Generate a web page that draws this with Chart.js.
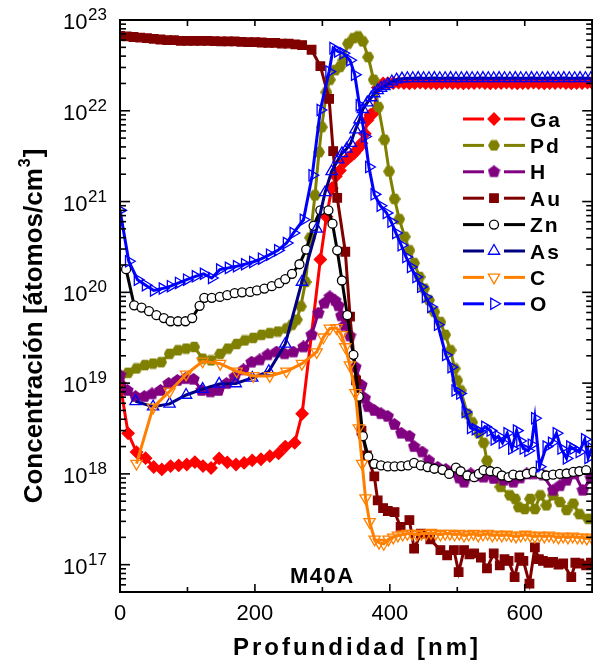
<!DOCTYPE html>
<html>
<head>
<meta charset="utf-8">
<script src="https://cdn.jsdelivr.net/npm/chart.js@4.4.0/dist/chart.umd.min.js"></script>
<style>
  html, body { margin: 0; padding: 0; background: #fff; overflow: hidden; }
  #wrap { width: 600px; height: 663px; }
</style>
</head>
<body>
<div id="wrap"><canvas id="chart" width="600" height="663"></canvas></div>
<script>
// depth in nm, concentration in atoms/cm3
const gaDepth = [0,12,24.5,38,50,62,75,87,99,111, 123,135,147,159,172,184,196,209,222,235, 245,259,270,297,306,314,320,326,333,338, 343,347,351,355,358,363,367,371,376,382, 390,397,
  405,413,421,429,437,445,453,461,469,477,485,493,501,509,517,525,533,541,549,557,565,573,581,589,597,605,613,621,629,637,645,653,661,669,677,685,693,700];
const gaConc = [1e19,2.8e18,1.74e18,1.49e18,1.19e18,1.12e18,1.22e18,1.24e18,1.27e18,1.35e18, 1.22e18,1.16e18,1.48e18,1.34e18,1.27e18,1.32e18,1.41e18,1.45e18,1.57e18,1.68e18, 2.0e18,2.2e18,4.6e18,2.3e20,6.8e20,1.4e21,1.9e21,2.2e21,2.75e21,3.0e21, 3.2e21,3.4e21,3.7e21,4.0e21,4.4e21,5.6e21,7.9e21,9.0e21,9.5e21,1.8e22, 2.0e22,2.02e22,
  2.02e22,2.04e22,2.02e22,2.0e22,2.02e22,2.04e22,2.02e22,2.02e22,2.0e22,2.02e22, 2.04e22,2.02e22,2.02e22,2.0e22,2.02e22,2.02e22,2.04e22,2.02e22,2.0e22,2.02e22, 2.02e22,2.04e22,2.02e22,2.0e22,2.02e22,2.02e22,2.04e22,2.02e22,2.0e22,2.02e22, 2.02e22,2.04e22,2.02e22,2.0e22,2.02e22,2.02e22,2.04e22,2.02e22];

const pdDepth = [0,12,24.5,37,49,61,73.5,86,98,110, 122.5,135,148.5,160,173,185,197.5,210,222,234, 247,255,262,268,275,282,289,295,299,306, 311,319,326,331,338,346,353,360,368,376, 383,392,399,407,414,422,429,436,444,451, 458,466,475,482,490,496,500,505,515,522, 532,539,544,556,564,578,586,591,600,608, 615,623,632,642,652,662,672,681,694];
const pdConc = [1.17e19,1.3e19,1.45e19,1.58e19,1.64e19,1.7e19,2.1e19,2.3e19,2.4e19,2.5e19, 1.86e19,1.78e19,2.1e19,2.4e19,2.7e19,2.95e19,3.15e19,3.4e19,3.55e19,3.7e19, 4.0e19,4.4e19,5.0e19,7.0e19,1.3e20,4.0e20,1.17e21,3.5e21,6.6e21,1.6e22, 2.2e22,2.8e22,3.05e22,3.6e22,5.5e22,6.3e22,6.6e22,5.8e22,3.9e22,2.2e22, 1.1e22,4.8e21,2.15e21,1.07e21,6.4e20,4.1e20,2.9e20,2.1e20,1.48e20,1.1e20, 8.2e19,6.1e19,4.7e19,3.4e19,2.3e19,1.45e19,1.07e19,8.3e18,4.6e18,3.7e18, 2.8e18,2.2e18,1.4e18,9.2e17,7.2e17,5.8e17,5.3e17,4.3e17,4.1e17,5.3e17, 4.1e17,5.8e17,4.5e17,5.8e17,4.9e17,4.0e17,4.7e17,3.6e17,3.2e17];

const hDepth = [0,11,23,36,47.5,60,72,85,97,109, 121,134,146,158,170,183,195,207,219,232, 244,257,272,284,294,303,311,319,324,328, 333,341,349,358,363,368,377,387,397,407, 417,429,436,448,458,471,483,495,503,510, 520,530,539,554,569,583,593,603,613,627, 642,652,662,674,686,698];
const hConc = [1.22e19,8.3e18,7.1e18,7.1e18,7.6e18,8.3e18,9.9e18,1.07e19,1.12e19,1.1e19, 8.3e18,8.0e18,8.3e18,9.9e18,1.17e19,1.4e19,1.7e19,1.8e19,2.05e19,2.2e19, 2.1e19,2.2e19,2.5e19,3.4e19,5.9e19,7.6e19,8.9e19,8.1e19,7.1e19,5.5e19, 4.3e19,3.3e19,1.5e19,9.5e18,6.8e18,5.5e18,5.0e18,4.6e18,4.3e18,3.5e18, 2.8e18,2.6e18,2.0e18,1.74e18,1.4e18,1.18e18,1.12e18,1.05e18,9e17,8.1e17, 1.0e18,9.5e17,9.2e17,8.9e17,8.5e17,8.1e17,9.0e17,1.0e18,1.0e18,9.7e17, 6.6e17,7.4e17,8.5e17,1.0e18,6.6e17,9.0e17];

const auDepth = [0,10,20,30,40,50,60,70,80,90, 100,110,120,130,140,150,160,170,180,190, 200,210,220,230,240,250,260,270, 284,297,310,316,322,334,341,350,358,366, 377,382,390,397,407,416,429,436,446,460, 475,485,495,502,510,518,525,535,544,554, 563,570,576,585,592,598,607,615,621,627, 635,642,650,657,669,675,681,691,698];
const auConc = [6.7e22,6.6e22,6.5e22,6.4e22,6.3e22,6.2e22,6.1e22,6.0e22,6.0e22,5.9e22, 5.9e22,5.9e22,5.9e22,5.9e22,5.85e22,5.8e22,5.8e22,5.8e22,5.75e22,5.7e22, 5.7e22,5.65e22,5.6e22,5.6e22,5.5e22,5.5e22,5.4e22,5.3e22, 4.7e22,3.1e22,1.35e22,3.6e21,1.1e21,2.8e20,5.4e19,1.07e19,3e18,1.6e18, 9.4e17,5.1e17,4.2e17,3.9e17,3.8e17,2.6e17,3.1e17,1.5e17,2.2e17,1.9e17, 1.45e17,1.27e17,1.45e17,8.3e16,1.45e17,1.3e17,1.33e17,1.2e17,9.1e16,1.33e17, 9.8e16,1.15e17,1.1e17,7.3e16,1.2e17,1.1e17,6.2e16,1.55e17,1.15e17,1.1e17, 1.05e17,1.07e17,1.0e17,1.03e17,7.3e16,1.05e17,1.03e17,9.8e16,1.05e17];

const znDepth = [9,21,32,43,54,65,75,86,97,107, 118,125,136,148,159,170,181,193,203,214, 225,236,245,255,266,276,287,297,309,315, 322,329,337,346,354,360,368,377,387,397, 407,417,427,436,446,456,466,478,488,498, 505,515,525,532,539,549,559,566,576,583, 593,603,613,623,632,642,652,662,672,681, 691];
const znConc = [1.8e20,7.2e19,6.8e19,6.2e19,5.6e19,5.2e19,4.8e19,4.8e19,4.8e19,5.2e19, 7.1e19,8.7e19,8.7e19,8.9e19,9.3e19,9.8e19,1.0e20,1.01e20,1.05e20,1.1e20, 1.17e20,1.26e20,1.4e20,1.6e20,2.04e20,2.96e20,5.4e20,8.0e20,8.0e20,5.7e20, 2.9e20,1.35e20,5.6e19,2.05e19,7.1e18,2.6e18,1.55e18,1.29e18,1.24e18,1.21e18, 1.21e18,1.22e18,1.24e18,1.32e18,1.24e18,1.19e18,1.14e18,1.11e18,1.0e18,1.17e18, 1.07e18,9.6e17,9.2e17,1.0e18,1.1e18,1.07e18,1.05e18,9.6e17,9.2e17,9.8e17, 9.6e17,1.0e18,1.05e18,1.0e18,9.6e17,9.8e17,1.0e18,1.01e18,1.05e18,1.07e18, 1.1e18];

const asDepth = [23,49,73.5,98,122.5,147,171.6,196,220.6,245, 269.6,291.6,304,313.7,323.5,329,335.8,342,349,355, 360,366.6,372.5,377,382,387,392,397,403,410, 418,
  426,434,442,450,458,466,474,482,490,498,506,514,522,530,538,546,554,562,570,578,586,594,602,610,618,626,634,642,650,658,666,674,682,690,698];
const asConc = [6.3e18,5.5e18,5.9e18,7.4e18,8.6e18,9.8e18,9.9e18,1.14e19,1.35e19,2.7e19, 1.3e20,5.0e20,1.26e21,2.15e21,2.9e21,3.4e21,3.8e21,4.4e21,6.2e21,8.0e21, 1.04e22,1.23e22,1.4e22,1.55e22,1.68e22,1.78e22,1.86e22,1.95e22,2.1e22,2.2e22, 2.26e22,
  2.28e22,2.28e22,2.29e22,2.28e22,2.28e22,2.29e22,2.28e22,2.28e22,2.29e22,2.28e22, 2.28e22,2.29e22,2.28e22,2.28e22,2.29e22,2.28e22,2.28e22,2.29e22,2.28e22,2.28e22, 2.29e22,2.28e22,2.28e22,2.29e22,2.28e22,2.28e22,2.29e22,2.28e22,2.28e22,2.29e22, 2.28e22,2.28e22,2.29e22,2.28e22,2.28e22];

const cDepth = [24.5,49,73.5,98,122.5,148.5,173,197.5,222,246.6, 269.6,291.6,301.5,311,321,328.4,334,340.7,349,354, 359,364,370,377.5,384,391,
  398,405,412,419,426,433,440,447,454,461,468,475,482,489,496,503,510,517,524,531,538,545,552,559,566,573,580,587,594,601,608,615,622,629,636,643,650,657,664,671,678,685,692,699];
const cConc = [1.3e18,5.4e18,8.1e18,1.25e19,1.74e19,1.64e19,1.35e19,1.2e19,1.2e19,1.35e19, 1.64e19,2.2e19,3.2e19,4.0e19,4.05e19,3.4e19,2.5e19,1.58e19,7.8e18,3.2e18, 1.3e18,5.4e17,2.96e17,1.9e17,1.75e17,1.7e17,
  1.9e17,2.0e17,2.1e17,2.15e17,2.2e17,2.2e17,2.15e17,2.2e17,2.2e17,2.25e17, 2.2e17,2.15e17,2.2e17,2.2e17,2.15e17,2.2e17,2.1e17,2.15e17,2.2e17,2.1e17, 2.15e17,2.2e17,2.1e17,2.15e17,2.1e17,2.15e17,2.1e17,2.05e17,2.1e17,2.15e17, 2.1e17,2.05e17,2.1e17,2.05e17,2.1e17,2.05e17,2.0e17,2.05e17,2.0e17,2.05e17, 2.0e17,2.0e17,1.95e17,2.0e17];

const oDepth = [0,13,26,38,50,63,75,87,99,112, 124,136,148,161,173,185,197,210,222,234, 247,257,272,285,297,310,316,323,331,341, 348,355,363,369,377,386,395,402,409,417, 424,431,439,446,453,461,471,483,491,497, 504,512,520,527,534,541,549,555,561,567, 574,581,588,593,598,605,610,615,622,632, 640,647,654,662,667,672,681,689,694,699];
const oConc = [8e20,2.2e20,1.38e20,1.2e20,1.05e20,1.1e20,1.17e20,1.27e20,1.38e20,1.5e20, 1.6e20,1.44e20,1.78e20,1.86e20,1.94e20,2.04e20,2.16e20,2.35e20,2.6e20,2.9e20, 3.5e20,4.5e20,6.3e20,1.95e21,1.02e22,2.7e22,4.9e22,4.5e22,4.3e22,3.6e22, 2.5e22,1.15e22,5.2e21,2.4e21,1.2e21,9e20,7.5e20,6.0e20,4.5e20,3.3e20, 2.45e20,1.9e20,1.48e20,1.15e20,8.9e19,6.9e19,4.4e19,2.04e19,1.5e19,8.3e18, 7.7e18,4.8e18,3.2e18,3.1e18,2.9e18,3.3e18,3.0e18,2.4e18,2.6e18,2.2e18, 2.8e18,1.9e18,3.0e18,2.3e18,1.9e18,1.8e18,2.1e18,4.1e18,1.2e18,2.0e18, 2.2e18,2.8e18,1.9e18,1.48e18,2.0e18,1.9e18,1.74e18,2.4e18,1.5e18,1.9e18];

const seriesNames = ['Ga', 'Pd', 'H', 'Au', 'Zn', 'As', 'C', 'O'];
const xTickValues = [0, 200, 400, 600];
const xTickLabels = ['0', '200', '400', '600'];
const yExponents = [17, 18, 19, 20, 21, 22, 23];

const FONT = "'Liberation Sans', Arial, sans-serif";

function pts(depth, conc) {
    return depth.map((d, i) => ({ x: d, y: conc[i] }));
}

// filled polygon markers (pentagon for H, hexagon for Pd)
function polygonMarker(sides, size, color, rot) {
    const c = document.createElement('canvas');
    c.width = size;
    c.height = size;
    const g = c.getContext('2d');
    const r = size / 2;
    g.beginPath();
    for (let i = 0; i < sides; i++) {
        const a = rot + i * 2 * Math.PI / sides;
        g.lineTo(r + r * Math.cos(a), r + r * Math.sin(a));
    }
    g.closePath();
    g.fillStyle = color;
    g.fill();
    return c;
}

const hexagon = polygonMarker(6, 12, '#808000', 0);
const pentagon = polygonMarker(5, 13, '#800080', -Math.PI / 2);

const styles = [
    { line: '#ff0000', fill: '#ff0000', edge: '#ff0000', point: 'rectRot', rot: 0, r: 6 },
    { line: '#808000', fill: '#808000', edge: '#808000', point: hexagon, rot: 0, r: 5 },
    { line: '#800080', fill: '#800080', edge: '#800080', point: pentagon, rot: 0, r: 5 },
    { line: '#800000', fill: '#800000', edge: '#800000', point: 'rect', rot: 0, r: 6 },
    { line: '#000000', fill: '#ffffff', edge: '#000000', point: 'circle', rot: 0, r: 4.5 },
    { line: '#000080', fill: 'rgba(255,255,255,0)', edge: '#0000ff', point: 'triangle', rot: 0, r: 6.5 },
    { line: '#ff8000', fill: 'rgba(255,255,255,0)', edge: '#ff8000', point: 'triangle', rot: 180, r: 6.5 },
    { line: '#0000ff', fill: 'rgba(255,255,255,0)', edge: '#0000ff', point: 'triangle', rot: 90, r: 6.5 }
];

const seriesData = [
    pts(gaDepth, gaConc), pts(pdDepth, pdConc), pts(hDepth, hConc), pts(auDepth, auConc),
    pts(znDepth, znConc), pts(asDepth, asConc), pts(cDepth, cConc), pts(oDepth, oConc)
];

const datasets = seriesNames.map((name, i) => ({
    label: name,
    data: seriesData[i],
    borderColor: styles[i].line,
    borderWidth: 3,
    tension: 0,
    pointStyle: styles[i].point,
    pointRotation: styles[i].rot,
    pointRadius: styles[i].r,
    pointBackgroundColor: styles[i].fill,
    pointBorderColor: styles[i].edge,
    pointBorderWidth: 1.3,
    order: seriesNames.length - 1 - i
}));

// marker for the hand-drawn legend
function drawMarker(ctx, s, x, y) {
    ctx.save();
    ctx.translate(x, y);
    ctx.fillStyle = s.fill === 'rgba(255,255,255,0)' ? '#ffffff' : s.fill;
    ctx.strokeStyle = s.edge;
    ctx.lineWidth = 1.3;
    if (typeof s.point !== 'string') {
        ctx.drawImage(s.point, -s.point.width / 2, -s.point.height / 2);
        ctx.restore();
        return;
    }
    ctx.beginPath();
    if (s.point === 'circle') {
        ctx.arc(0, 0, s.r, 0, Math.PI * 2);
    } else if (s.point === 'rect') {
        const h = s.r * Math.SQRT1_2;
        ctx.rect(-h, -h, 2 * h, 2 * h);
    } else if (s.point === 'rectRot') {
        ctx.moveTo(0, -s.r); ctx.lineTo(s.r, 0); ctx.lineTo(0, s.r); ctx.lineTo(-s.r, 0);
        ctx.closePath();
    } else {
        let a = s.rot * Math.PI / 180;
        for (let k = 0; k < 3; k++) {
            ctx.lineTo(Math.sin(a) * s.r, -Math.cos(a) * s.r);
            a += Math.PI * 2 / 3;
        }
        ctx.closePath();
    }
    ctx.fill();
    ctx.stroke();
    ctx.restore();
}

const framePlugin = {
    id: 'frame',
    afterDraw(chart) {
        const ctx = chart.ctx;
        const { left, right, top, bottom } = chart.chartArea;
        const xs = chart.scales.x;
        const ys = chart.scales.y;
        ctx.save();
        ctx.strokeStyle = '#000';
        ctx.fillStyle = '#000';

        // frame
        ctx.lineWidth = 2;
        ctx.strokeRect(left, top, right - left, bottom - top);

        // inward ticks
        ctx.lineWidth = 1.6;
        const seg = (x1, y1, x2, y2) => { ctx.beginPath(); ctx.moveTo(x1, y1); ctx.lineTo(x2, y2); ctx.stroke(); };
        for (let v = 0; v <= 700; v += 100) {
            const px = xs.getPixelForValue(v);
            const major = v % 200 === 0;
            seg(px, bottom, px, bottom - (major ? 8 : 5));
            seg(px, top, px, top + 6);
        }
        for (let e = 16; e <= 22; e++) {
            for (let m = 1; m < 10; m++) {
                const v = m * Math.pow(10, e);
                if (v < ys.min || v > ys.max) continue;
                const py = ys.getPixelForValue(v);
                const len = m === 1 ? 10 : 6;
                seg(left, py, left + len, py);
                seg(right, py, right - len, py);
            }
        }
        const pyTop = ys.getPixelForValue(1e23);
        seg(left, pyTop, left + 10, pyTop);

        // x tick labels
        ctx.font = '22px ' + FONT;
        ctx.textAlign = 'center';
        ctx.textBaseline = 'alphabetic';
        xTickValues.forEach((v, i) => {
            ctx.fillText(xTickLabels[i], xs.getPixelForValue(v), bottom + 28);
        });

        // y tick labels 10^n
        ctx.textAlign = 'left';
        yExponents.forEach(e => {
            const py = ys.getPixelForValue(Math.pow(10, e));
            ctx.font = '22px ' + FONT;
            ctx.fillText('10', 63, py + 9);
            ctx.font = '17px ' + FONT;
            ctx.fillText(String(e), 88, py + 0);
        });

        // axis titles
        ctx.font = 'bold 24px ' + FONT;
        ctx.letterSpacing = '3px';
        ctx.textAlign = 'center';
        ctx.fillText('Profundidad [nm]', 357, 655);
        ctx.letterSpacing = '0px';

        ctx.save();
        ctx.translate(42, 327);
        ctx.rotate(-Math.PI / 2);
        ctx.textAlign = 'left';
        const main = 'Concentración [átomos/cm';
        ctx.font = 'bold 26px ' + FONT;
        const w1 = ctx.measureText(main).width;
        const w3 = ctx.measureText(']').width;
        ctx.font = 'bold 16px ' + FONT;
        const w2 = ctx.measureText('3').width;
        let x0 = -(w1 + w2 + w3) / 2;
        ctx.font = 'bold 26px ' + FONT;
        ctx.fillText(main, x0, 0);
        ctx.font = 'bold 16px ' + FONT;
        ctx.fillText('3', x0 + w1 + 1, -12);
        ctx.font = 'bold 26px ' + FONT;
        ctx.fillText(']', x0 + w1 + w2 + 2, 0);
        ctx.restore();

        // sample label
        ctx.font = 'bold 22px ' + FONT;
        ctx.letterSpacing = '1.5px';
        ctx.textAlign = 'left';
        ctx.fillText('M40A', 290, 583);

        // legend
        ctx.font = 'bold 21px ' + FONT;
        ctx.letterSpacing = '2px';
        seriesNames.forEach((name, i) => {
            const y = 119 + i * 26.4;
            const s = styles[i];
            ctx.strokeStyle = s.line;
            ctx.lineWidth = 3;
            seg(463, y, 484, y);
            seg(504, y, 525, y);
            drawMarker(ctx, s, 494, y);
            ctx.fillStyle = '#000';
            ctx.fillText(name, 530, y + 7.5);
        });
        ctx.letterSpacing = '0px';
        ctx.restore();
    }
};

const ctx = document.getElementById('chart').getContext('2d');
new Chart(ctx, {
    type: 'line',
    data: { datasets: datasets },
    options: {
        responsive: false,
        animation: false,
        layout: { padding: { left: 120, top: 20, right: 4, bottom: 71 } },
        plugins: {
            legend: { display: false },
            tooltip: { enabled: false }
        },
        scales: {
            x: { type: 'linear', min: 0, max: 700, display: false },
            y: { type: 'logarithmic', min: 5e16, max: 1e23, display: false }
        }
    },
    plugins: [framePlugin]
});
</script>
</body>
</html>
